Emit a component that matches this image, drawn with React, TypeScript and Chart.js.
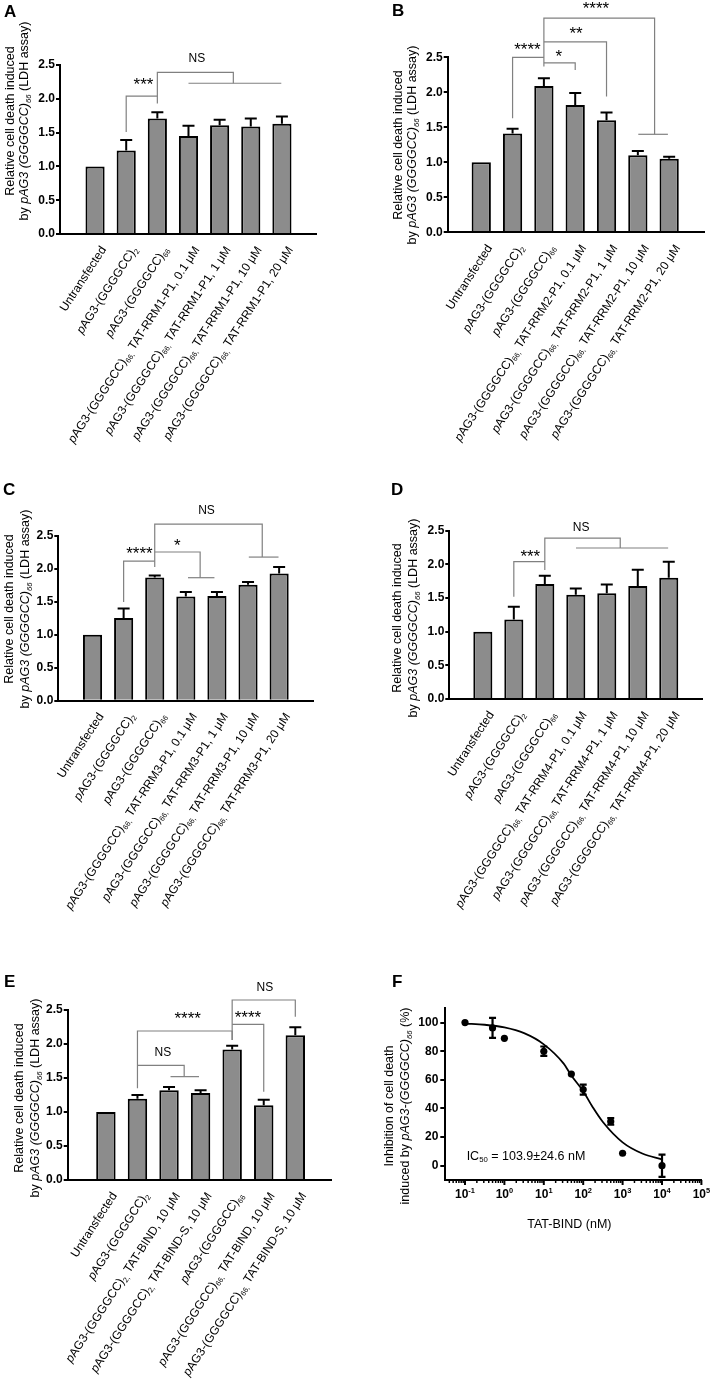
import React, { useEffect, useRef } from 'react';
import { Chart, registerables } from 'chart.js';

Chart.register(...registerables);

const FONT = '"Liberation Sans", Arial, Helvetica, sans-serif';
const BAR_FILL = '#8c8c8c';
const BRACKET = '#808080';

// ---------------- DATA ----------------
// markup: *...* italic, _..._ subscript, ^...^ superscript
const yTicksBars = [0, 0.5, 1, 1.5, 2, 2.5];
const yTitleBars = ['Relative cell death induced', 'by *pAG3 (GGGGCC)_66_* (LDH assay)'];

const labelsA = [
  'Untransfected',
  '*p*AG3-(GGGGCC)_2_',
  '*p*AG3-(GGGGCC)_66_',
  '*p*AG3-(GGGGCC)_66,_ TAT-RRM1-P1, 0.1 μM',
  '*p*AG3-(GGGGCC)_66,_ TAT-RRM1-P1, 1 μM',
  '*p*AG3-(GGGGCC)_66,_ TAT-RRM1-P1, 10 μM',
  '*p*AG3-(GGGGCC)_66,_ TAT-RRM1-P1, 20 μM',
];
const valuesA = [1.0, 1.235, 1.71, 1.45, 1.61, 1.59, 1.63];
const errorsA = [0, 0.155, 0.09, 0.15, 0.08, 0.12, 0.11];

const labelsB = [
  'Untransfected',
  '*p*AG3-(GGGGCC)_2_',
  '*p*AG3-(GGGGCC)_66_',
  '*p*AG3-(GGGGCC)_66,_ TAT-RRM2-P1, 0.1 μM',
  '*p*AG3-(GGGGCC)_66,_ TAT-RRM2-P1, 1 μM',
  '*p*AG3-(GGGGCC)_66,_ TAT-RRM2-P1, 10 μM',
  '*p*AG3-(GGGGCC)_66,_ TAT-RRM2-P1, 20 μM',
];
const valuesB = [1.0, 1.41, 2.09, 1.82, 1.6, 1.1, 1.05];
const errorsB = [0, 0.07, 0.11, 0.17, 0.11, 0.06, 0.03];

const labelsC = [
  'Untransfected',
  '*p*AG3-(GGGGCC)_2_',
  '*p*AG3-(GGGGCC)_66_',
  '*p*AG3-(GGGGCC)_66,_ TAT-RRM3-P1, 0.1 μM',
  '*p*AG3-(GGGGCC)_66,_ TAT-RRM3-P1, 1 μM',
  '*p*AG3-(GGGGCC)_66,_ TAT-RRM3-P1, 10 μM',
  '*p*AG3-(GGGGCC)_66,_ TAT-RRM3-P1, 20 μM',
];
const valuesC = [1.0, 1.255, 1.87, 1.58, 1.59, 1.76, 1.93];
const errorsC = [0, 0.145, 0.03, 0.07, 0.06, 0.04, 0.1];

const labelsD = [
  'Untransfected',
  '*p*AG3-(GGGGCC)_2_',
  '*p*AG3-(GGGGCC)_66_',
  '*p*AG3-(GGGGCC)_66,_ TAT-RRM4-P1, 0.1 μM',
  '*p*AG3-(GGGGCC)_66,_ TAT-RRM4-P1, 1 μM',
  '*p*AG3-(GGGGCC)_66,_ TAT-RRM4-P1, 10 μM',
  '*p*AG3-(GGGGCC)_66,_ TAT-RRM4-P1, 20 μM',
];
const valuesD = [1.0, 1.18, 1.71, 1.55, 1.57, 1.68, 1.8];
const errorsD = [0, 0.19, 0.12, 0.09, 0.13, 0.24, 0.24];

const labelsE = [
  'Untransfected',
  '*p*AG3-(GGGGCC)_2_',
  '*p*AG3-(GGGGCC)_2,_ TAT-BIND, 10 μM',
  '*p*AG3-(GGGGCC)_2,_ TAT-BIND-S, 10 μM',
  '*p*AG3-(GGGGCC)_66_',
  '*p*AG3-(GGGGCC)_66,_ TAT-BIND, 10 μM',
  '*p*AG3-(GGGGCC)_66,_ TAT-BIND-S, 10 μM',
];
const valuesE = [1.0, 1.196, 1.32, 1.28, 1.92, 1.1, 2.13];
const errorsE = [0, 0.054, 0.048, 0.039, 0.055, 0.08, 0.115];

// significance brackets (x = category index, y = value) and their labels
const bracketsA = [
  [[1, 1.51], [1, 2.04], [2, 2.04]],
  [[2, 1.93], [2, 2.39], [4.44, 2.39], [4.44, 2.23]],
  [[3, 2.23], [5.98, 2.23]],
];
const notesA: [string, number, number][] = [['***', 1.555, 2.278], ['NS', 3.27, 2.614]];

const bracketsB = [
  [[1, 1.63], [1, 2.5], [2, 2.5]],
  [[2, 2.37], [2, 3.06], [5.535, 3.06], [5.535, 1.4]],
  [[5.015, 1.4], [5.96, 1.4]],
  [[2, 2.42], [3, 2.42], [3, 2.32]],
  [[2, 2.72], [4, 2.72], [4, 1.94]],
];
const notesB: [string, number, number][] = [
  ['****', 3.663, 3.254], ['**', 3.025, 2.9], ['****', 1.473, 2.676], ['*', 2.477, 2.58],
];

const bracketsC = [
  [[1, 1.5], [1, 2.12], [2, 2.12]],
  [[2, 2.03], [2, 2.68], [5.457, 2.68], [5.457, 2.18]],
  [[5.025, 2.18], [5.98, 2.18]],
  [[2, 2.257], [3.46, 2.257], [3.46, 1.867]],
  [[3.07, 1.867], [3.92, 1.867]],
];
const notesC: [string, number, number][] = [['NS', 3.666, 2.896], ['****', 1.508, 2.298], ['*', 2.729, 2.424]];

const bracketsD = [
  [[1, 1.52], [1, 2.04], [2, 2.04]],
  [[2, 1.916], [2, 2.391], [4.434, 2.391], [4.434, 2.243]],
  [[3.005, 2.243], [5.98, 2.243]],
];
const notesD: [string, number, number][] = [['NS', 3.171, 2.559], ['***', 1.532, 2.188]];

const bracketsE = [
  [[1, 1.348], [1, 2.191], [4, 2.191], [4, 2.059]],
  [[1, 1.686], [2.48, 1.686], [2.48, 1.52]],
  [[2.047, 1.52], [2.95, 1.52]],
  [[4, 2.059], [4, 2.647], [6, 2.647], [6, 2.402]],
  [[4, 2.289], [5, 2.289], [5, 1.299]],
];
const notesE: [string, number, number][] = [
  ['NS', 5.034, 2.843], ['****', 2.59, 2.436], ['NS', 1.803, 1.887], ['****', 4.499, 2.451],
];

// Panel F: dose–response
const fDose = [0.1, 0.5, 1, 10, 50, 100, 500, 1000, 10000];
const fInhib = [100, 96.3, 89, 80, 64, 53.2, 30.9, 8.7, 0];
const fErr = [0, 7, 0, 3.3, 0, 3.5, 2.3, 0, 7.8];
const fCurveDose = [0.1, 0.316, 1, 3.16, 10, 31.6, 50, 100, 178, 316, 1000, 3160, 10000];
const fCurveInhib = [99.3, 98.5, 96.6, 92.6, 84.8, 71.5, 63, 52, 40.5, 30.5, 16.3, 8.5, 4.4];
const fTicksY = [0, 20, 40, 60, 80, 100];
const fTickExp = [-1, 0, 1, 2, 3, 4, 5];
const fTitleY = ['Inhibition of cell death', 'induced by *pAG3-(GGGGCC)_66_* (%)'];
const fTitleX = 'TAT-BIND (nM)';
const fIC50 = 'IC_50_ = 103.9±24.6 nM';

// ---------------- RICH TEXT ----------------
type Seg = { t: string; it: boolean; sub: boolean; sup: boolean };
function parseRich(s: string): Seg[] {
  const segs: Seg[] = [];
  let it = false, sub = false, sup = false, buf = '';
  const push = () => { if (buf) segs.push({ t: buf, it, sub, sup }); buf = ''; };
  for (const ch of s) {
    if (ch === '*') { push(); it = !it; }
    else if (ch === '_') { push(); sub = !sub; }
    else if (ch === '^') { push(); sup = !sup; }
    else buf += ch;
  }
  push();
  return segs;
}
function segFont(seg: Seg, size: number, bold: boolean) {
  const sz = seg.sub || seg.sup ? size * 0.62 : size;
  return `${seg.it ? 'italic ' : ''}${bold ? 'bold ' : ''}${sz}px ${FONT}`;
}
function drawRich(ctx: CanvasRenderingContext2D, s: string, x: number, y: number, size: number,
  bold: boolean, align: 'left' | 'center' | 'right') {
  const segs = parseRich(s);
  ctx.save();
  let w = 0;
  for (const seg of segs) { ctx.font = segFont(seg, size, bold); w += ctx.measureText(seg.t).width; }
  let cx = align === 'left' ? x : align === 'center' ? x - w / 2 : x - w;
  ctx.fillStyle = '#000';
  ctx.textAlign = 'left';
  ctx.textBaseline = 'alphabetic';
  for (const seg of segs) {
    ctx.font = segFont(seg, size, bold);
    const dy = seg.sub ? size * 0.22 : seg.sup ? -size * 0.42 : 0;
    ctx.fillText(seg.t, cx, y + dy);
    cx += ctx.measureText(seg.t).width;
  }
  ctx.restore();
}
function plain(s: string) { return s.replace(/[*_^]/g, ''); }

function drawYTitle(ctx: CanvasRenderingContext2D, lines: string[], xs: number[], cy: number) {
  const size = 12.5;
  lines.forEach((ln, k) => {
    ctx.save();
    ctx.translate(xs[k], cy);
    ctx.rotate(-Math.PI / 2);
    drawRich(ctx, ln, 0, size * 0.35, size, false, 'center');
    ctx.restore();
  });
}
function drawLetter(ctx: CanvasRenderingContext2D, letter: string, pos: number[]) {
  ctx.save();
  ctx.font = `bold 17px ${FONT}`;
  ctx.fillStyle = '#000';
  ctx.textAlign = 'left';
  ctx.textBaseline = 'alphabetic';
  ctx.fillText(letter, pos[0], pos[1]);
  ctx.restore();
}

// ---------------- PANELS ----------------
type Rect = { x: number; y: number; w: number; h: number };
type Area = { l: number; r: number; t: number; b: number };
interface BarCfg {
  letter: string; letterPos: number[]; rect: Rect; area: Area; xMin: number; xMax: number;
  labels: string[]; values: number[]; errors: number[];
  brackets: number[][][]; notes: [string, number, number][];
  titleX: number[]; titleCY: number;
}

const LABEL_ANGLE = (57 * Math.PI) / 180;

function buildBar(cfg: BarCfg): any {
  const Y_W = 40;
  const overlay = {
    id: 'overlay',
    afterDatasetsDraw(chart: any) {
      const ctx: CanvasRenderingContext2D = chart.ctx;
      const xs = chart.scales.x, ys = chart.scales.y;
      ctx.save();
      ctx.strokeStyle = '#000';
      ctx.lineWidth = 2;
      cfg.values.forEach((v, i) => {
        const e = cfg.errors[i];
        if (!e) return;
        const x = xs.getPixelForValue(i);
        const y1 = ys.getPixelForValue(v);
        const y2 = ys.getPixelForValue(v + e);
        ctx.beginPath();
        ctx.moveTo(x, y1); ctx.lineTo(x, y2);
        ctx.moveTo(x - 6, y2); ctx.lineTo(x + 6, y2);
        ctx.stroke();
      });
      ctx.restore();
    },
    afterDraw(chart: any) {
      const ctx: CanvasRenderingContext2D = chart.ctx;
      const xs = chart.scales.x, ys = chart.scales.y;
      const ca = chart.chartArea;
      // brackets
      ctx.save();
      ctx.strokeStyle = BRACKET;
      ctx.lineWidth = 1.2;
      cfg.brackets.forEach((pl) => {
        ctx.beginPath();
        pl.forEach(([bx, by], k) => {
          const px = xs.getPixelForValue(bx), py = ys.getPixelForValue(by);
          if (k === 0) ctx.moveTo(px, py); else ctx.lineTo(px, py);
        });
        ctx.stroke();
      });
      ctx.restore();
      // notes
      cfg.notes.forEach(([t, nx, ny]) => {
        const px = xs.getPixelForValue(nx), py = ys.getPixelForValue(ny);
        ctx.save();
        ctx.fillStyle = '#000';
        ctx.textAlign = 'center';
        ctx.textBaseline = 'alphabetic';
        if (t.startsWith('*')) {
          ctx.font = `17px ${FONT}`;
          ctx.fillText(t, px, py + 17 * 0.58);
        } else {
          ctx.font = `12px ${FONT}`;
          ctx.fillText(t, px, py + 12 * 0.36);
        }
        ctx.restore();
      });
      // rotated category labels
      cfg.labels.forEach((lab, i) => {
        const px = xs.getPixelForValue(i);
        ctx.save();
        ctx.translate(px + 11.5, ca.bottom + 15.5);
        ctx.rotate(-LABEL_ANGLE);
        drawRich(ctx, lab, 0, 0, 12, false, 'right');
        ctx.restore();
      });
      drawYTitle(ctx, yTitleBars, cfg.titleX, cfg.titleCY);
      drawLetter(ctx, cfg.letter, cfg.letterPos);
    },
  };
  return {
    type: 'bar',
    data: {
      labels: cfg.labels.map(plain),
      datasets: [{
        data: cfg.values.map((v, i) => ({ x: i, y: v })),
        backgroundColor: BAR_FILL,
        borderColor: '#000',
        borderWidth: 2,
        borderSkipped: 'start',
        barPercentage: 0.615,
        categoryPercentage: 1,
      }],
    },
    options: {
      animation: false,
      responsive: false,
      devicePixelRatio: 1,
      layout: {
        padding: {
          left: cfg.area.l - Y_W,
          top: cfg.area.t,
          right: cfg.rect.w - cfg.area.r,
          bottom: cfg.rect.h - cfg.area.b,
        },
      },
      plugins: { legend: { display: false }, tooltip: { enabled: false } },
      scales: {
        x: {
          type: 'linear', min: cfg.xMin, max: cfg.xMax,
          afterBuildTicks: (s: any) => { s.ticks = cfg.values.map((_, i) => ({ value: i })); },
          ticks: { display: false },
          grid: { display: false },
          border: { display: true, color: '#000', width: 2, z: 1 },
          afterFit: (s: any) => { s.height = 0; },
        },
        y: {
          min: 0, max: 2.5,
          afterBuildTicks: (s: any) => { s.ticks = yTicksBars.map((v) => ({ value: v })); },
          ticks: {
            color: '#000', padding: 1,
            font: { family: FONT, size: 12, weight: 'bold' },
            callback: (v: any) => Number(v).toFixed(1),
          },
          grid: { drawOnChartArea: false, drawTicks: true, tickLength: 4, color: '#000', lineWidth: 2 },
          border: { display: true, color: '#000', width: 2, z: 1 },
          afterFit: (s: any) => { s.width = Y_W; },
        },
      },
    },
    plugins: [overlay],
  };
}

function buildF(): any {
  const Y_W = 40;
  const rect = { w: 357, h: 463 };
  const area = { l: 89.3, r: 345.4, t: 78.3, b: 250 };
  const overlay = {
    id: 'overlayF',
    afterDraw(chart: any) {
      const ctx: CanvasRenderingContext2D = chart.ctx;
      const xs = chart.scales.x, ys = chart.scales.y;
      const ca = chart.chartArea;
      // error bars
      ctx.save();
      ctx.strokeStyle = '#000';
      ctx.lineWidth = 2.2;
      fDose.forEach((d, i) => {
        const e = fErr[i];
        if (!e) return;
        const x = xs.getPixelForValue(d);
        const yt = ys.getPixelForValue(fInhib[i] + e);
        const yb = ys.getPixelForValue(fInhib[i] - e);
        ctx.beginPath();
        ctx.moveTo(x, yt); ctx.lineTo(x, yb);
        ctx.moveTo(x - 3.5, yt); ctx.lineTo(x + 3.5, yt);
        ctx.moveTo(x - 3.5, yb); ctx.lineTo(x + 3.5, yb);
        ctx.stroke();
      });
      ctx.restore();
      // log x ticks
      ctx.save();
      ctx.strokeStyle = '#000';
      const minV = xs.min, maxV = xs.max;
      for (let n = -2; n <= 5; n++) {
        for (let k = 1; k <= 9; k++) {
          const v = k * Math.pow(10, n);
          if (v < minV * 0.999 || v > maxV * 1.001) continue;
          const x = xs.getPixelForValue(v);
          ctx.lineWidth = k === 1 ? 2 : 1.5;
          ctx.beginPath();
          ctx.moveTo(x, ca.bottom);
          ctx.lineTo(x, ca.bottom + (k === 1 ? 5 : 3));
          ctx.stroke();
        }
      }
      ctx.restore();
      fTickExp.forEach((e) => {
        const x = xs.getPixelForValue(Math.pow(10, e));
        drawRich(ctx, `10^${e}^`, x, ca.bottom + 18, 12, true, 'center');
      });
      // IC50
      drawRich(ctx, fIC50, xs.getPixelForValue(0.11), ys.getPixelForValue(7.3) + 4.5, 12.5, false, 'left');
      // x title
      drawRich(ctx, fTitleX, (ca.left + ca.right) / 2 - 4, ca.bottom + 47.5, 12.5, false, 'center');
      drawYTitle(ctx, fTitleY, [33, 48.5], 176);
      drawLetter(ctx, 'F', [36, 57]);
    },
  };
  return {
    type: 'scatter',
    data: {
      datasets: [
        {
          data: fDose.map((d, i) => ({ x: d, y: fInhib[i] })),
          pointRadius: 3.6,
          pointBackgroundColor: '#000',
          pointBorderColor: '#000',
          pointBorderWidth: 0,
        },
        {
          data: fCurveDose.map((d, i) => ({ x: d, y: fCurveInhib[i] })),
          showLine: true,
          borderColor: '#000',
          borderWidth: 1.8,
          pointRadius: 0,
          cubicInterpolationMode: 'monotone',
          fill: false,
        },
      ],
    },
    options: {
      animation: false,
      responsive: false,
      devicePixelRatio: 1,
      layout: {
        padding: { left: area.l - Y_W, top: area.t, right: rect.w - area.r, bottom: rect.h - area.b },
      },
      plugins: { legend: { display: false }, tooltip: { enabled: false } },
      scales: {
        x: {
          type: 'logarithmic', min: Math.pow(10, -1.5), max: 1e5,
          ticks: { display: false },
          grid: { display: false },
          border: { display: true, color: '#000', width: 2, z: 1 },
          afterFit: (s: any) => { s.height = 0; },
        },
        y: {
          min: -10, max: 110,
          afterBuildTicks: (s: any) => { s.ticks = fTicksY.map((v) => ({ value: v })); },
          ticks: { color: '#000', padding: 2, font: { family: FONT, size: 12, weight: 'bold' } },
          grid: { drawOnChartArea: false, drawTicks: true, tickLength: 5, color: '#000', lineWidth: 2 },
          border: { display: true, color: '#000', width: 2, z: 1 },
          afterFit: (s: any) => { s.width = Y_W; },
        },
      },
    },
    plugins: [overlay],
  };
}

const panels: BarCfg[] = [
  {
    letter: 'A', letterPos: [4, 17], rect: { x: 0, y: 0, w: 356, h: 460 },
    area: { l: 60, r: 316.7, t: 65, b: 234 }, xMin: -0.537, xMax: 6.528,
    labels: labelsA, values: valuesA, errors: errorsA, brackets: bracketsA, notes: notesA,
    titleX: [9.5, 24], titleCY: 121,
  },
  {
    letter: 'B', letterPos: [36, 16], rect: { x: 356, y: 0, w: 357, h: 460 },
    area: { l: 91.7, r: 348, t: 57.3, b: 232.3 }, xMin: -0.487, xMax: 6.528,
    labels: labelsB, values: valuesB, errors: errorsB, brackets: bracketsB, notes: notesB,
    titleX: [41.5, 56], titleCY: 145,
  },
  {
    letter: 'C', letterPos: [3, 25], rect: { x: 0, y: 470, w: 356, h: 460 },
    area: { l: 58.3, r: 313.3, t: 66, b: 230.7 }, xMin: -0.515, xMax: 6.513,
    labels: labelsC, values: valuesC, errors: errorsC, brackets: bracketsC, notes: notesC,
    titleX: [9, 24.5], titleCY: 139,
  },
  {
    letter: 'D', letterPos: [35, 25], rect: { x: 356, y: 470, w: 357, h: 460 },
    area: { l: 93.3, r: 346.7, t: 60.7, b: 229 }, xMin: -0.498, xMax: 6.511,
    labels: labelsD, values: valuesD, errors: errorsD, brackets: bracketsD, notes: notesD,
    titleX: [41, 56.5], titleCY: 148,
  },
  {
    letter: 'E', letterPos: [4, 57], rect: { x: 0, y: 930, w: 356, h: 463 },
    area: { l: 67.7, r: 331, t: 80, b: 250 }, xMin: -0.614, xMax: 6.535,
    labels: labelsE, values: valuesE, errors: errorsE, brackets: bracketsE, notes: notesE,
    titleX: [19, 34.5], titleCY: 168,
  },
];

function ChartCanvas({ rect, build }: { rect: Rect; build: () => any }) {
  const ref = useRef<HTMLCanvasElement>(null);
  useEffect(() => {
    const chart = new Chart(ref.current as HTMLCanvasElement, build());
    return () => chart.destroy();
  }, []);
  return (
    <canvas
      ref={ref}
      width={rect.w}
      height={rect.h}
      style={{ position: 'absolute', left: rect.x, top: rect.y, width: rect.w, height: rect.h }}
    />
  );
}

export default function App() {
  return (
    <div style={{ position: 'absolute', left: 0, top: 0, width: 713, height: 1393, background: '#fff', overflow: 'hidden' }}>
      {panels.map((p) => (
        <ChartCanvas key={p.letter} rect={p.rect} build={() => buildBar(p)} />
      ))}
      <ChartCanvas rect={{ x: 356, y: 930, w: 357, h: 463 }} build={buildF} />
    </div>
  );
}
